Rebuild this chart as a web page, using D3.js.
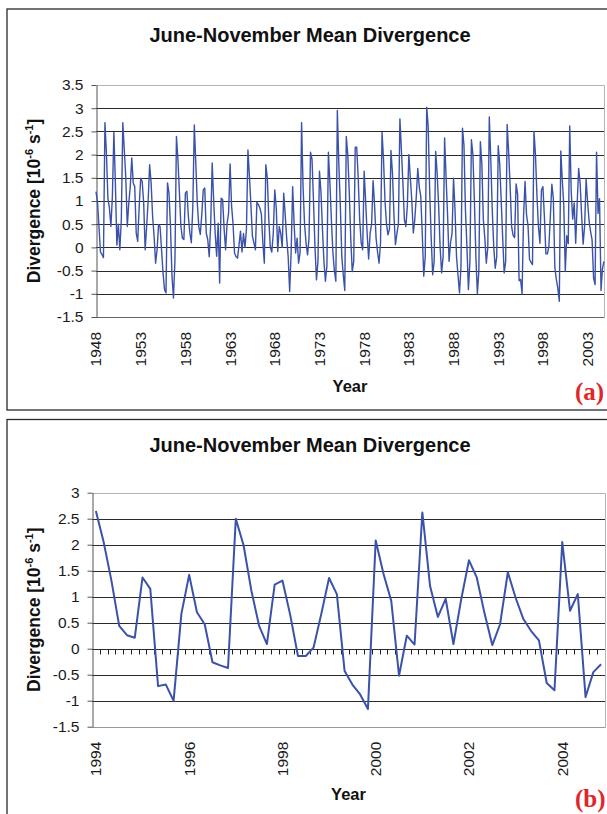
<!DOCTYPE html>
<html><head><meta charset="utf-8">
<script src="https://cdn.jsdelivr.net/npm/d3@7"></script>
<style>body{margin:0;background:#fff}svg{display:block}</style>
</head><body><svg id="c" width="607" height="814" font-family="Liberation Sans, Arial, sans-serif"></svg>
<script>
// ---- data ----
const months = ["Jun","Jul","Aug","Sep","Oct","Nov"];
const yearsA = d3.range(1948, 2005);
const yearsB = d3.range(1994, 2005);
const tickLabelsA = ["1948","1953","1958","1963","1968","1973","1978","1983","1988","1993","1998","2003"];
const tickLabelsB = ["1994","1996","1998","2000","2002","2004"];
const yTicksA = [-1.5,-1,-0.5,0,0.5,1,1.5,2,2.5,3,3.5];
const yTicksB = [-1.5,-1,-0.5,0,0.5,1,1.5,2,2.5,3];
// June..November values, 1948-1993
const divergence1948to1993 = [
 1.20, 0.98, 0.45,-0.10,-0.15,-0.22,
 2.69, 2.03, 1.05, 0.85, 0.45, 1.10,
 2.48, 1.40, 0.05, 0.50,-0.05, 0.60,
 2.69, 2.10, 1.50, 0.45, 0.95, 1.31,
 1.93, 1.39, 1.31, 0.31, 0.13, 0.88,
 1.49, 1.42, 0.96,-0.05, 0.45, 1.00,
 1.78, 1.39, 0.67, 0.24,-0.34,-0.05,
 0.49, 0.45,-0.05,-0.55,-0.91,-0.98,
 1.39, 1.17, 0.45,-0.62,-1.09,-0.27,
 2.39, 1.89, 1.17, 0.45, 0.20, 0.17,
 1.17, 1.21, 0.67, 0.31, 0.10, 0.90,
 2.64, 1.80, 0.95, 0.45, 0.28, 0.70,
 1.24, 1.28, 0.31, 0.17,-0.20, 0.50,
 1.82, 1.00, 0.30,-0.19, 0.52,-0.77,
 1.06, 1.03, 0.40,-0.05, 0.52, 0.74,
 1.80, 0.90, 0.50,-0.12,-0.20,-0.23,
 0.05, 0.35,-0.10, 0.30, 0.00, 0.40,
 2.10, 1.53, 0.90, 0.24, 0.10,-0.05,
 0.97, 0.92, 0.85, 0.72, 0.10,-0.34,
 1.78, 1.50, 0.60, 0.00,-0.10, 0.30,
 1.24, 0.85,-0.09, 0.45, 0.30, 0.00,
 1.17, 0.70, 0.20,-0.20,-0.95,-0.10,
 1.31, 0.50,-0.12, 0.20,-0.34,-0.10,
 2.69, 1.30, 0.50, 0.09,-0.16, 0.20,
 2.05, 1.90, 1.00, 0.00,-0.70,-0.30,
 1.64, 1.20, 0.40,-0.30,-0.73,-0.40,
 2.05, 1.40, 0.60,-0.10,-0.50,-0.73,
 2.95, 1.80, 0.90,-0.20,-0.60,-0.93,
 2.39, 2.00, 1.20, 0.20,-0.52,-0.30,
 2.16, 2.16, 1.50, 0.60, 0.10,-0.05,
 1.64, 1.00, 0.30,-0.25, 0.30, 0.50,
 1.44, 0.90, 0.20,-0.10,-0.34, 0.10,
 2.48, 1.90, 1.00, 0.50, 0.27, 0.40,
 2.09, 1.60, 0.70, 0.06, 0.30, 0.50,
 2.77, 2.10, 1.40, 0.60, 0.45, 0.90,
 2.00, 1.50, 1.00, 0.31, 0.60, 1.10,
 1.70, 1.30, 1.10, 0.30,-0.62,-0.20,
 3.02, 2.60, 1.20, 0.20,-0.59,-0.30,
 2.07, 1.60, 0.90, 0.00,-0.55,-0.20,
 2.36, 1.50, 0.70,-0.30, 0.10, 0.30,
 1.49, 0.80,-0.20,-0.60,-0.98,-0.40,
 2.57, 2.20, 0.80, 0.00,-0.91,-0.30,
 2.32, 2.00, 1.00,-0.20,-1.00,-0.50,
 2.28, 1.80, 0.60, 0.20,-0.34, 0.00,
 2.81, 1.90, 0.80, 0.00,-0.45,-0.20,
 2.19, 1.80, 1.00, 0.20,-0.55,-0.30
];
// June..November values, 1994-2004
const divergence1994to2004 = [
 2.65, 2.05, 1.31, 0.44, 0.26, 0.21,
 1.37, 1.15,-0.72,-0.69,-1.00, 0.67,
 1.42, 0.70, 0.47,-0.26,-0.32,-0.37,
 2.50, 1.99, 1.12, 0.44, 0.09, 1.23,
 1.31, 0.65,-0.14,-0.14, 0.02, 0.67,
 1.36, 1.05,-0.43,-0.69,-0.88,-1.16,
 2.08, 1.44, 0.92,-0.52, 0.25, 0.08,
 2.62, 1.20, 0.61, 0.96, 0.09, 0.95,
 1.70, 1.37, 0.68, 0.07, 0.47, 1.47,
 0.98, 0.57, 0.34, 0.16,-0.66,-0.80,
 2.05, 0.73, 1.05,-0.93,-0.45,-0.30
];
const categoriesA = yearsA.flatMap(y => months.map(m => y + "-" + m));
const categoriesB = yearsB.flatMap(y => months.map(m => y + "-" + m));
const seriesA = divergence1948to1993.concat(divergence1994to2004);
const seriesB = divergence1994to2004;

const svg = d3.select("#c");
const SANS = "Liberation Sans, Arial, sans-serif";
const SERIF = "Liberation Serif, Times New Roman, serif";

function panel(o) {
  const g = svg.append("g");
  g.append("rect").attr("x", o.frame[0]).attr("y", o.frame[1]).attr("width", o.frame[2]).attr("height", o.frame[3])
    .attr("fill", "none").attr("stroke", "#2a2a2a").attr("stroke-width", 1.3);
  const y = d3.scaleLinear().domain([o.yTicks[0], o.yTicks[o.yTicks.length - 1]]).range([o.bottom, o.top]);
  let xPos;
  if (o.mode === "point") {
    const xp = d3.scalePoint().domain(o.categories).range([o.left, o.right]);
    xPos = c => xp(c);
  } else {
    const xb = d3.scaleBand().domain(o.categories).range([o.left, o.right]).paddingInner(0).paddingOuter(0);
    xPos = c => xb(c) + xb.bandwidth() / 2;
    o.xb = xb;
  }
  const r = v => Math.round(v) + 0.5;
  g.append("g").selectAll("line").data(o.yTicks.slice(1, -1)).join("line")
    .attr("x1", o.left).attr("x2", o.right).attr("y1", d => r(y(d))).attr("y2", d => r(y(d)))
    .attr("stroke", "#2a2a2a").attr("stroke-width", 1);
  const yt = r(y(o.yTicks[o.yTicks.length - 1])), yb = r(y(o.yTicks[0]));
  g.append("line").attr("x1", o.left).attr("x2", r(o.right)).attr("y1", yt).attr("y2", yt).attr("stroke", "#b4b4b4");
  g.append("line").attr("x1", r(o.right)).attr("x2", r(o.right)).attr("y1", yt).attr("y2", yb).attr("stroke", "#b4b4b4");
  g.append("line").attr("x1", o.left).attr("x2", r(o.right)).attr("y1", yb).attr("y2", yb).attr("stroke", o.bottomColor);
  if (o.zeroTicks) {
    const y0 = r(y(0));
    const bounds = d3.range(1, o.categories.length).map(i => o.xb(o.categories[i]));
    g.append("g").selectAll("line").data(bounds).join("line")
      .attr("x1", d => r(d)).attr("x2", d => r(d)).attr("y1", y0).attr("y2", y0 + 5)
      .attr("stroke", "#202020");
  }
  const ax = g.append("g").attr("transform", `translate(${r(o.left)},0)`)
    .call(d3.axisLeft(y).tickValues(o.yTicks).tickSize(5).tickSizeOuter(0).tickPadding(8).tickFormat(d => String(d)));
  ax.select(".domain").attr("stroke", "#555");
  ax.selectAll(".tick line").attr("stroke", "#555");
  ax.selectAll(".tick text").style("font-family", SANS).style("font-size", "15.5px").attr("fill", "#1a1a1a");
  const line = d3.line().x((d, i) => xPos(o.categories[i])).y(d => y(d));
  g.append("path").datum(o.values).attr("d", line).attr("fill", "none")
    .attr("stroke", "#3b52aa").attr("stroke-width", o.lw).attr("stroke-linejoin", "round");
  g.append("g").selectAll("text").data(o.tickLabels).join("text")
    .attr("transform", (d, k) => `translate(${xPos(o.categories[k * o.tickStep])},${o.bottom + 15}) rotate(-90)`)
    .attr("text-anchor", "end").attr("dy", "0.35em").style("font-family", SANS).style("font-size", "15.5px")
    .attr("fill", "#1a1a1a").text(d => d);
  g.append("text").attr("x", 310).attr("y", o.titleY).attr("text-anchor", "middle")
    .style("font-family", SANS).style("font-size", "20px").style("font-weight", "bold").attr("fill", "#111")
    .text("June-November Mean Divergence");
  const yt2 = g.append("text").attr("transform", `translate(40,${(o.top + o.bottom) / 2}) rotate(-90)`)
    .attr("text-anchor", "middle").style("font-family", SANS).style("font-size", "17.5px").style("font-weight", "bold").attr("fill", "#111");
  yt2.append("tspan").text("Divergence [10");
  yt2.append("tspan").attr("dy", -7).style("font-size", "11px").text("-6");
  yt2.append("tspan").attr("dy", 7).text(" s");
  yt2.append("tspan").attr("dy", -7).style("font-size", "11px").text("-1");
  yt2.append("tspan").attr("dy", 7).text("]");
  g.append("text").attr("x", (o.left + o.right) / 2).attr("y", o.yearY).attr("text-anchor", "middle")
    .style("font-family", SANS).style("font-size", "16.5px").style("font-weight", "bold").attr("fill", "#111").text("Year");
  g.append("text").attr("x", 575).attr("y", o.letterY)
    .style("font-family", SERIF).style("font-size", "25px").style("font-weight", "bold").attr("fill", "#e0262b").text(o.letter);
}

panel({frame:[7,9,640,401], top:85, bottom:317, left:96, right:604, yTicks:yTicksA, categories:categoriesA,
  values:seriesA, mode:"point", tickLabels:tickLabelsA, tickStep:30, lw:1.4, titleY:42, yearY:392,
  letter:"(a)", letterY:400, bottomColor:"#666", zeroTicks:false});
panel({frame:[7,419.5,640,420], top:492.7, bottom:726.7, left:92, right:605, yTicks:yTicksB, categories:categoriesB,
  values:seriesB, mode:"band", tickLabels:tickLabelsB, tickStep:12, lw:2, titleY:452, yearY:800,
  letter:"(b)", letterY:807, bottomColor:"#999", zeroTicks:true});
</script></body></html>
